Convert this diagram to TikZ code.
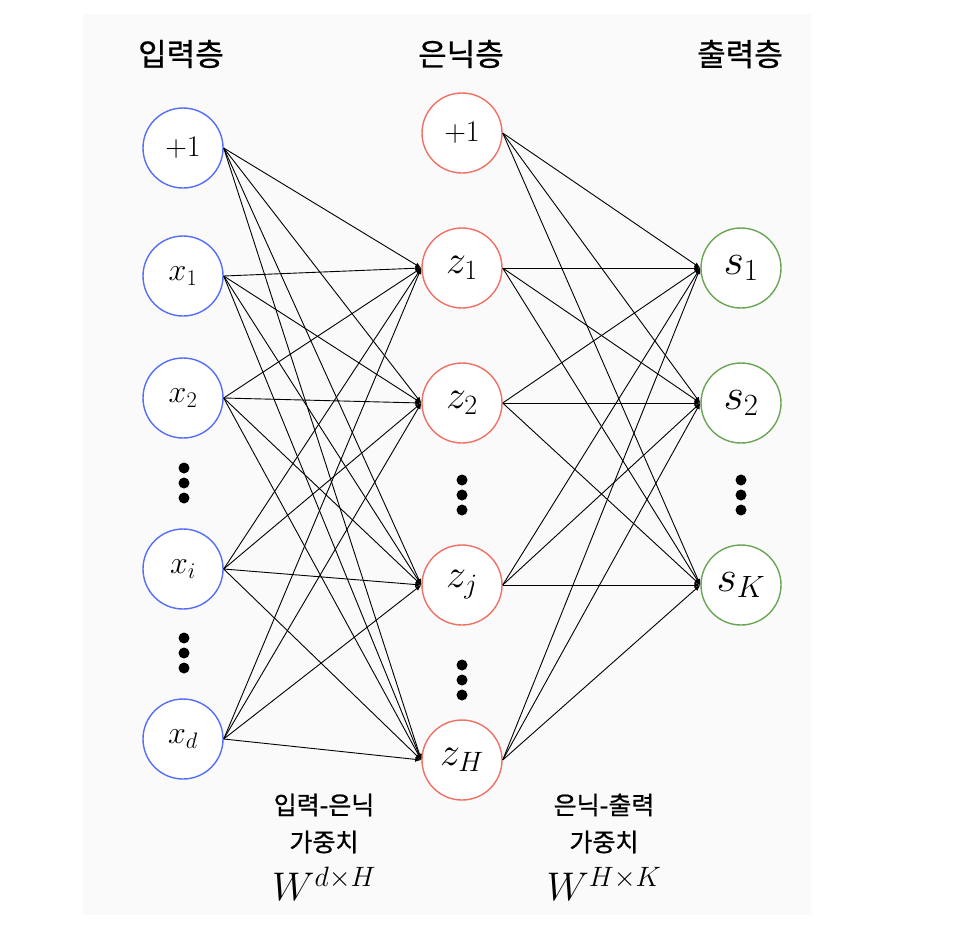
\RequirePackage{fix-cm}
\documentclass[tikz,border=0pt]{standalone}
\usepackage{fontspec}
\newfontfamily\kr{Noto Sans CJK KR}[FakeBold=0.8]
\usetikzlibrary{arrows.meta}
\definecolor{bg}{RGB}{250,250,250}
\definecolor{cblue}{RGB}{85,110,250}
\definecolor{cred}{RGB}{240,112,100}
\definecolor{cgreen}{RGB}{105,165,85}
\tikzset{
  neuron/.style={circle, draw, line width=1.4pt, minimum size=80pt, inner sep=0pt, fill=white},
  inp/.style={neuron, draw=cblue, font=\fontsize{32}{34}\selectfont},
  hid/.style={neuron, draw=cred, font=\fontsize{40}{42}\selectfont},
  outp/.style={neuron, draw=cgreen, font=\fontsize{44}{46}\selectfont},
  one/.style={font=\fontsize{30}{32}\selectfont},
  edge/.style={line width=0.9pt, black, -{Latex[length=6pt,width=5pt]}},
  hdr/.style={font=\kr\fontsize{31}{33}\selectfont},
  wlbl/.style={font=\kr\fontsize{25}{27}\selectfont},
  wmath/.style={font=\fontsize{40}{44}\selectfont},
  vdot/.style={circle, fill=black, minimum size=11pt, inner sep=0pt}
}
\begin{document}
\begin{tikzpicture}[x=1pt,y=-1pt]
\useasboundingbox (0,0) rectangle (960,932);
\fill[bg] (83,14) rectangle (811,915);
% headers
\node[hdr] (hin) at (181,54) {입력층};
\node[hdr] (hhid) at (461,54) {은닉층};
\node[hdr] (hout) at (740,54) {출력층};
% input layer
\node[inp, one] (i0) at (183,148) {$+1$};
\node[inp] (i1) at (183,276) {$x_1$};
\node[inp] (i2) at (183,398) {$x_2$};
\node[inp] (ii) at (183,569) {$x_i$};
\node[inp] (id) at (183,739) {$x_d$};
% hidden layer
\node[hid, one] (h0) at (462,133) {$+1$};
\node[hid] (h1) at (462,268) {$z_1$};
\node[hid] (h2) at (462,403) {$z_2$};
\node[hid] (hj) at (462,585) {$z_j$};
\node[hid] (hH) at (462,760) {$z_H$};
% output layer
\node[outp] (o1) at (741,268) {$s_1$};
\node[outp] (o2) at (741,403) {$s_2$};
\node[outp] (oK) at (741,585) {$s_K$};
% vertical dots
\foreach \n/\x/\y in {a/184/468, b/184/483, c/184/498, d/184/638, e/184/653, f/184/668,
                      g/462/480, h/462/495, k/462/510, l/462/665, m/462/680, n/462/695,
                      p/741/480, q/741/495, r/741/510}
  \node[vdot] (dot\n) at (\x,\y) {};
% edges input -> hidden
\foreach \a in {i0,i1,i2,ii,id}
  \foreach \b in {h1,h2,hj,hH}
    \draw[edge] (\a.east) -- (\b.west);
% edges hidden -> output
\foreach \a in {h0,h1,h2,hj,hH}
  \foreach \b in {o1,o2,oK}
    \draw[edge] (\a.east) -- (\b.west);
% weight labels
\node[wlbl] (l1a) at (324,805) {입력-은닉};
\node[wlbl] (l1b) at (324,842) {가중치};
\node[wmath] (l1c) at (324,884) {$W^{d\times H}$};
\node[wlbl] (l2a) at (604,805) {은닉-출력};
\node[wlbl] (l2b) at (604,842) {가중치};
\node[wmath] (l2c) at (604,884) {$W^{H\times K}$};
\end{tikzpicture}
\end{document}
